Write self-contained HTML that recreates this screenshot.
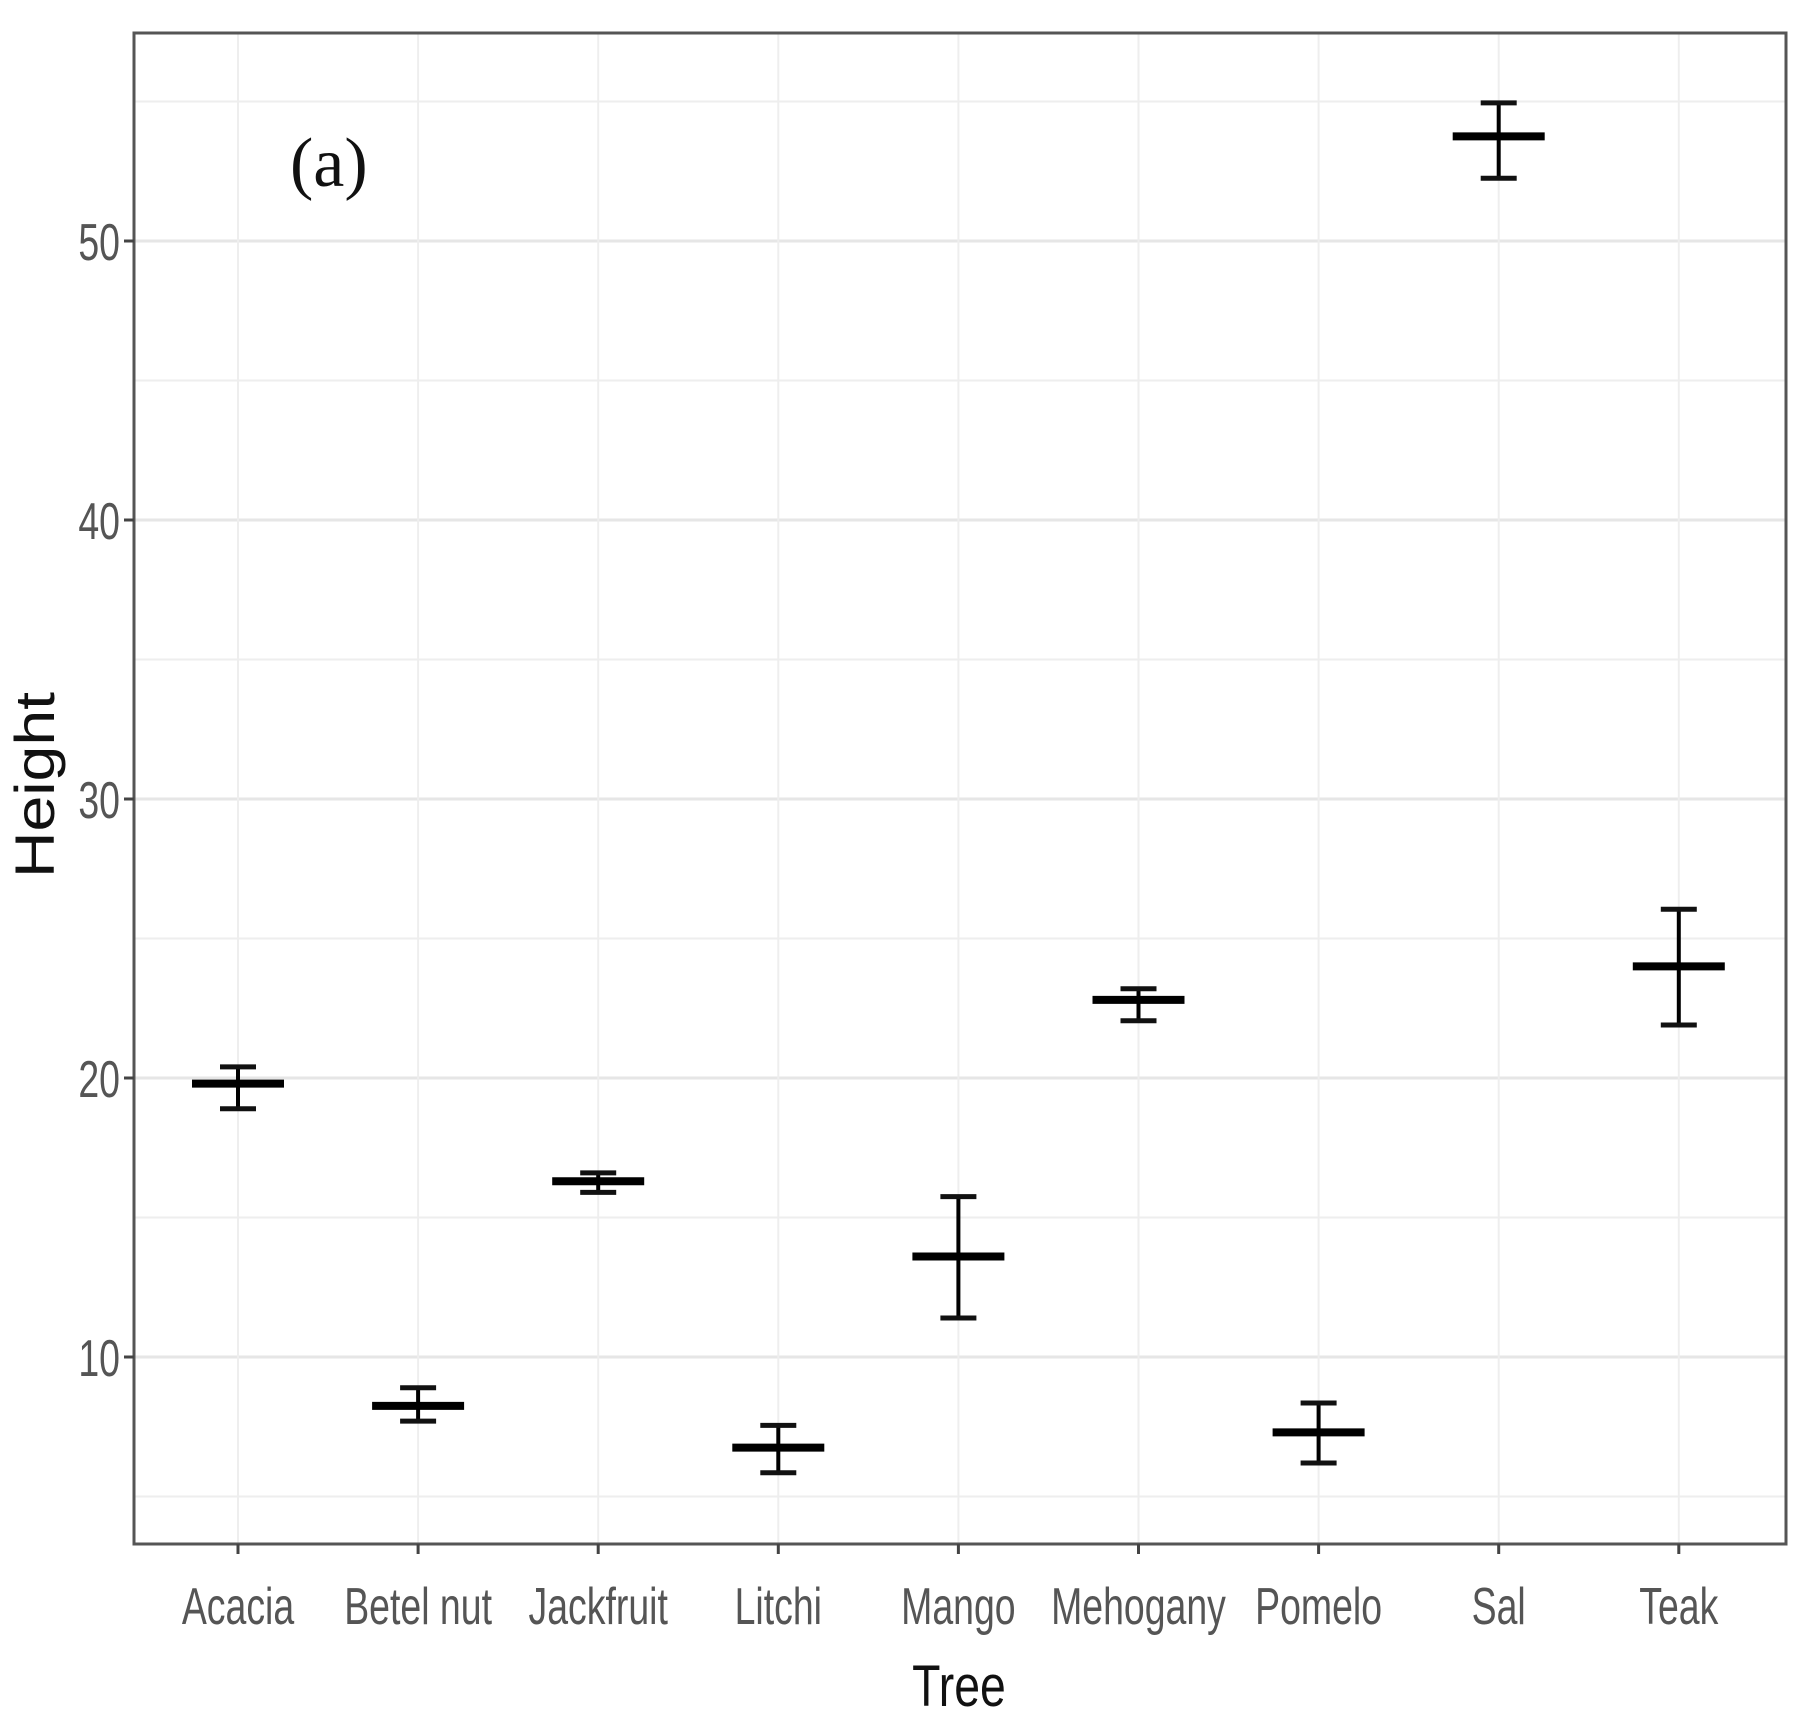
<!DOCTYPE html>
<html><head><meta charset="utf-8"><style>
html,body{margin:0;padding:0;background:#fff;}
svg{display:block;}
</style></head><body>
<svg id="chart" width="1817" height="1735" viewBox="0 0 1817 1735" xmlns="http://www.w3.org/2000/svg">
<rect x="0" y="0" width="1817" height="1735" fill="#fff"/>
<g id="grid"></g>
<g id="marks"></g>
<rect x="134" y="33" width="1652" height="1511" fill="none" stroke="#555" stroke-width="3"/>
<g id="axes"></g>
<text x="290" y="186" font-family="Liberation Serif, serif" font-size="70" fill="#111">(a)</text>
<text x="0" y="0" text-anchor="middle" font-family="Liberation Sans, sans-serif" font-size="58" fill="#111" transform="translate(959 1706) scale(0.8 1)">Tree</text>
<text x="0" y="0" text-anchor="middle" font-family="Liberation Sans, sans-serif" font-size="56" fill="#111" transform="translate(54 785) rotate(-90) scale(1.15 1)">Height</text>
</svg>
<script>
const categories=["Acacia","Betel nut","Jackfruit","Litchi","Mango","Mehogany","Pomelo","Sal","Teak"];
const means=[19.8,8.25,16.3,6.75,13.6,22.8,7.3,53.75,24.0];
const upper=[20.4,8.9,16.6,7.55,15.75,23.2,8.35,54.95,26.05];
const lower=[18.9,7.7,15.9,5.85,11.4,22.05,6.2,52.25,21.9];
const yTicks=[10,20,30,40,50];
const yMinor=[5,15,25,35,45,55];
const NS="http://www.w3.org/2000/svg";
const L=134,R=1786,T=33,B=1544;
function y(v){return 1357-(v-10)*27.9;}
function x(i){return 238+i*180.1;}
function mk(tag,attrs,parent){const e=document.createElementNS(NS,tag);for(const k in attrs)e.setAttribute(k,attrs[k]);parent.appendChild(e);return e;}
const grid=document.getElementById('grid'),marks=document.getElementById('marks'),axes=document.getElementById('axes');
yMinor.forEach(v=>{const l=mk('line',{x1:L,x2:R,y1:y(v),y2:y(v),stroke:'#eeeeee','stroke-width':2},grid);

});
yTicks.forEach(v=>{const l=mk('line',{x1:L,x2:R,y1:y(v),y2:y(v),stroke:'#e6e6e6','stroke-width':3},grid);


const t=mk('line',{x1:L-10,x2:L,y1:y(v),y2:y(v),stroke:'#444','stroke-width':3},axes);


const tx=mk('text',{x:0,y:0,'text-anchor':'end','font-family':'Liberation Sans, sans-serif','font-size':52,fill:'#555',transform:`translate(${L-14} ${y(v)+19}) scale(0.72 1)`},axes);
tx.textContent=v;

});
categories.forEach((c,i)=>{const cx=x(i);
const g=mk('line',{x1:cx,x2:cx,y1:T,y2:B,stroke:'#eeeeee','stroke-width':2},grid);


const t=mk('line',{x1:cx,x2:cx,y1:B,y2:B+10,stroke:'#444','stroke-width':3},axes);


const tx=mk('text',{x:0,y:0,'text-anchor':'middle','font-family':'Liberation Sans, sans-serif','font-size':52,fill:'#555',transform:`translate(${cx} 1624) scale(0.72 1)`},axes);
tx.textContent=c;


const w=mk('line',{x1:cx,x2:cx,y1:y(upper[i]),y2:y(lower[i]),stroke:'#000','stroke-width':4},marks);


[upper[i],lower[i]].forEach(v=>{const cp=mk('line',{x1:cx-18,x2:cx+18,y1:y(v),y2:y(v),stroke:'#111','stroke-width':5},marks);

});
const m=mk('line',{x1:cx-46,x2:cx+46,y1:y(means[i]),y2:y(means[i]),stroke:'#000','stroke-width':8},marks);

});
</script>
</body></html>
